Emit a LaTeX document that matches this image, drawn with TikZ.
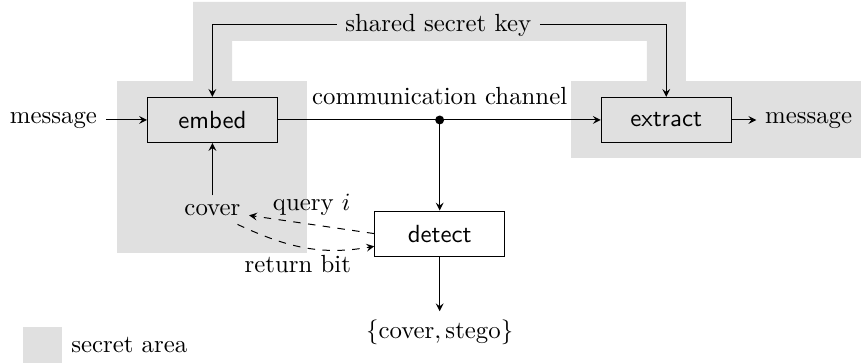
\documentclass[tikz,border=0pt]{standalone}
\usetikzlibrary{positioning}
\begin{document}
\begin{tikzpicture}[>=stealth,
	box/.style={draw,font=\sffamily,minimum width=1.84cm,minimum height=0.64cm},
	secret/.style={fill=black!12}]
	\useasboundingbox (0,0) rectangle (12.20,-5.144);
	% secret areas
	\fill[secret] (2.735,-0.028)--(9.717,-0.028)--(9.717,-1.148)--(9.165,-1.148)--(9.165,-0.581)--(3.288,-0.581)--(3.288,-1.148)--(2.735,-1.148)--cycle;
	\fill[secret] (1.658,-1.148) rectangle (4.351,-3.581);
	\fill[secret] (8.092,-1.148) rectangle (12.20,-2.239);
	% boxes
	\node[box] (embed) at (3.01,-1.70) {embed};
	\node[box] (extract) at (9.44,-1.70) {extract};
	\node[box] (detect) at (6.23,-3.31) {detect};
	\coordinate (split) at (6.23,-1.70);
	% texts
	\node (msgin) at (0.758,-1.70) {message};
	\node[right=0.35cm of extract] (msgout) {message};
	\node (key) at (6.21,-0.354) {shared secret key};
	\node[above=2.7pt] (channel) at (split) {communication channel};
	\node (cover) at (3.01,-2.975) {cover};
	\node (result) at (6.23,-4.71) {$\{\mathrm{cover},\mathrm{stego}\}$};
	% arrows
	\draw[->] (msgin) -- (embed);
	\draw[->] (cover) -- (embed);
	\draw (embed) -- (split);
	\draw[->] (split) -- (extract);
	\draw[->] (split) -- (detect);
	\draw[->] (extract) -- (msgout);
	\draw[->] (detect) -- (result);
	\draw[->] (key) -| (embed);
	\draw[->] (key) -| (extract);
	\fill (split) circle (1.8pt);
	\draw[->,dashed] (detect.west) -- node[above] (query) {query $i$} (cover.base east);
	\draw[->,dashed] (cover.-30) to[out=-25,in=190] node[below,pos=0.45] (answer) {return bit} ([yshift=-0.18cm]detect.west);
	% legend
	\node[secret,minimum width=0.553cm,minimum height=0.51cm,inner sep=0pt] (legend) at (0.6025,-4.889) {};
	\node[right=0pt of legend] (legendtext) {secret area};
\end{tikzpicture}
\end{document}
